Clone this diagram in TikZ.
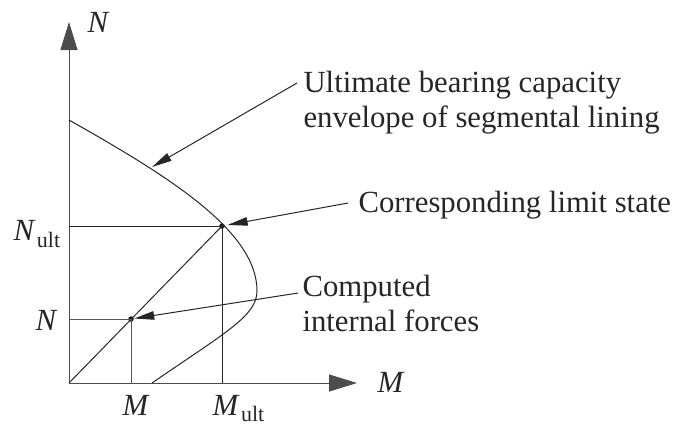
\documentclass[tikz,border=0pt]{standalone}
\usepackage{fontspec}
\setmainfont{Liberation Serif}
\usetikzlibrary{arrows.meta,positioning}

\begin{document}
\begin{tikzpicture}[
  x=0.4pt, y=-0.4pt,
  line width=0.4pt,
  axis/.style={draw=black!70, -{Triangle[length=11.2pt, width=6.8pt]}},
  guide/.style={draw=black!85},
  lead/.style={draw=black!85, -{Triangle[length=8pt, width=3.4pt]}},
  dot/.style={circle, fill=black!90, inner sep=0pt, minimum size=2.2pt},
  note/.style={font=\fontsize{12.3}{14}\selectfont, text=black!85, align=left, inner sep=0pt, anchor=base west},
  lbl/.style={font=\fontsize{12.3}{14}\selectfont, text=black!85, inner sep=0pt, anchor=base west},
]
  \useasboundingbox (0,0) rectangle (673,423);

  % axes
  \coordinate (O) at (69,383);
  \coordinate (ntop) at (69,22);
  \coordinate (mend) at (357,383);
  \draw[axis] (O) -- (ntop);
  \draw[axis] (O) -- (mend);

  % limit state and computed point
  \node[dot] (lim) at (222,226) {};
  \node[dot] (cmp) at (131,319) {};
  \draw[guide] (O) -- (lim.center);
  \draw[guide] (O |- lim) -- (lim.center) -- (lim |- O);
  \draw[guide, draw=black!65] (O |- cmp) -- (cmp.center) -- (cmp |- O);

  % envelope
  \draw[guide] (69,120) .. controls (169,176.5) and (257,231) .. (257,291)
    .. controls (257,316) and (224.5,333) .. (152,383);

  % notes (base = last line)
  \coordinate (envpt) at (152,167);
  \coordinate (ultend) at (297,83);
  \coordinate (limend) at (348,203);
  \coordinate (cmpend) at (298,293);
  \node[note] (ult) at (303,127) {Ultimate bearing capacity\\envelope of segmental lining};
  \node[note] (cls) at (358,212) {Corresponding limit state};
  \node[note] (cif) at (302,331) {Computed\\internal forces};
  \draw[lead] (ultend) -- (envpt);
  \draw[lead, shorten >=1pt] (limend) -- (lim);
  \draw[lead] (cmpend) -- (cmp);

  % axis labels
  \node[lbl] (nax) at (87,32) {\textit{N}};
  \node[lbl] (max) at (377,392) {\textit{M}};
  \node[lbl] (nult) at (13,240) {\textit{N}\kern0.6pt\raisebox{-2.8pt}{\fontsize{8.8}{10}\selectfont ult}};
  \node[lbl] (nval) at (35,330) {\textit{N}};
  \node[lbl] (mval) at (122,415) {\textit{M}};
  \node[lbl] (mult) at (212,415) {\textit{M}\kern0.6pt\raisebox{-2.4pt}{\fontsize{8.8}{10}\selectfont ult}};
\end{tikzpicture}
\end{document}
